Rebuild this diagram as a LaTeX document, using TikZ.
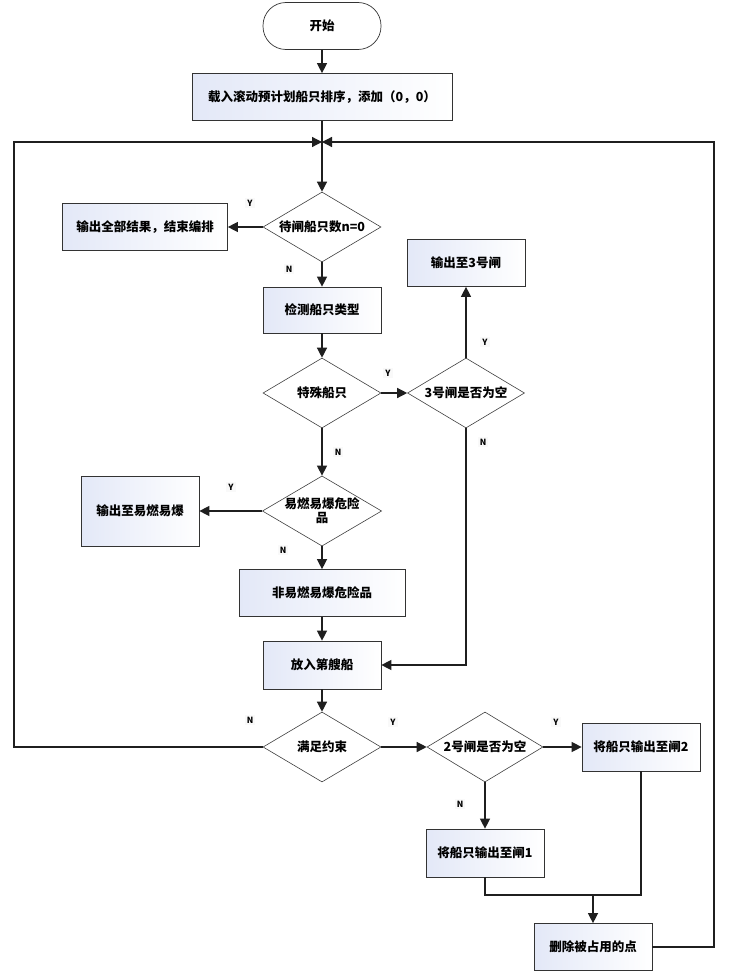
\documentclass[tikz,border=0pt]{standalone}
\usepackage{fontspec}
\setmainfont{Noto Sans CJK SC}
\usepackage{tikz}
\usetikzlibrary{shapes.geometric, arrows.meta, positioning, calc}
\definecolor{boxblue}{rgb}{0.89,0.91,0.97}
\definecolor{lineblack}{rgb}{0.12,0.12,0.12}

\tikzset{
  procbox/.style={draw=black!80, line width=0.7pt, left color=boxblue, right color=white,
    minimum width=118pt, minimum height=47pt, inner sep=2pt, align=center,
    font=\fontsize{12.5}{14}\selectfont\bfseries},
  startstop/.style={draw=black!80, line width=0.7pt, fill=white, rounded corners=23pt,
    minimum width=118pt, minimum height=47pt, font=\fontsize{12.5}{14}\selectfont\bfseries},
  decision/.style={diamond, aspect=1.7, draw=black!75, line width=0.6pt, fill=white,
    minimum width=118pt, minimum height=70pt, inner sep=0pt, align=center,
    font=\fontsize{12.5}{14}\selectfont\bfseries},
  flow/.style={draw=lineblack, line width=1.3pt, -{Triangle[length=10pt,width=10pt]}},
  link/.style={draw=lineblack, line width=1.3pt},
  yn/.style={fill=gray!5, inner sep=2pt, font=\fontsize{8.5}{9}\selectfont\bfseries}
}

\begin{document}
\begin{tikzpicture}[x=1pt, y=-1pt]
    \useasboundingbox[fill=white] (0,0) rectangle (730,974);

    % Main column
    \node[startstop] (start) at (322,26) {开始};
    \node[procbox, minimum width=260pt] (load) at (322,97) {载入滚动预计划船只排序，添加（0，0）};
    \coordinate (merge) at (322,142);
    \node[decision] (empty) at (322,227) {待闸船只数n=0};
    \node[procbox, minimum width=165pt] (endall) at (145,227) {输出全部结果，结束编排};
    \node[procbox, minimum height=46pt] (detect) at (322,310) {检测船只类型};

    % Special ships
    \node[decision] (special) at (322,393) {特殊船只};
    \node[decision, minimum width=117pt] (gate3) at (466,393) {3号闸是否为空};
    \node[procbox] (out3) at (466,263) {输出至3号闸};

    % Hazardous goods
    \node[decision] (hazard) at (322,511) {易燃易爆危险\\品};
    \node[procbox, minimum height=70pt] (outhaz) at (140,511) {输出至易燃易爆};
    \node[procbox, minimum width=166pt] (nonhaz) at (322,593) {非易燃易爆危险品};
    \node[procbox, minimum height=48pt] (place) at (322,665) {放入第艘船};

    % Constraint check
    \node[decision] (constraint) at (322,747) {满足约束};
    \node[decision, minimum width=116pt] (gate2) at (485,747) {2号闸是否为空};
    \node[procbox, minimum height=48pt] (out2) at (641,747) {将船只输出至闸2};
    \node[procbox, minimum height=48pt] (out1) at (485,853) {将船只输出至闸1};
    \node[procbox] (remove) at (593,947) {删除被占用的点};

    \coordinate (loopL) at (14,142);
    \coordinate (loopR) at (714,142);
    \coordinate (join) at (593,895);

    % Connectors
    \draw[flow] (start) -- (load);
    \draw[flow] (load) -- (empty);
    \draw[flow] (empty) -- (endall);
    \draw[flow] (empty) -- (detect);
    \draw[flow] (detect) -- (special);
    \draw[flow] (special) -- (gate3);
    \draw[flow] (gate3) -- (out3);
    \draw[flow] (gate3.south) |- (place.east);
    \draw[flow] (special) -- (hazard);
    \draw[flow] (hazard) -- (outhaz);
    \draw[flow] (hazard) -- (nonhaz);
    \draw[flow] (nonhaz) -- (place);
    \draw[flow] (place) -- (constraint);
    \draw[flow] (constraint.west) -| (loopL) -- (merge);
    \draw[flow] (constraint) -- (gate2);
    \draw[flow] (gate2) -- (out2);
    \draw[flow] (gate2) -- (out1);
    \draw[link] (out1.south) |- (out2.south |- join) -- (out2.south);
    \draw[flow] (join) -- (remove);
    \draw[flow] (remove.east) -| (loopR) -- (merge);

    % Y / N labels
    \node[yn] (y1) at (250,203) {Y};
    \node[yn] (n1) at (289,269) {N};
    \node[yn] (y2) at (388,373) {Y};
    \node[yn] (y3) at (485,342) {Y};
    \node[yn] (n2) at (483,442) {N};
    \node[yn] (n3) at (338,452) {N};
    \node[yn] (y4) at (231,487) {Y};
    \node[yn] (n4) at (283,550) {N};
    \node[yn] (n5) at (250,720) {N};
    \node[yn] (y5) at (393,722) {Y};
    \node[yn] (y6) at (556,722) {Y};
    \node[yn] (n6) at (460,804) {N};
\end{tikzpicture}
\end{document}
